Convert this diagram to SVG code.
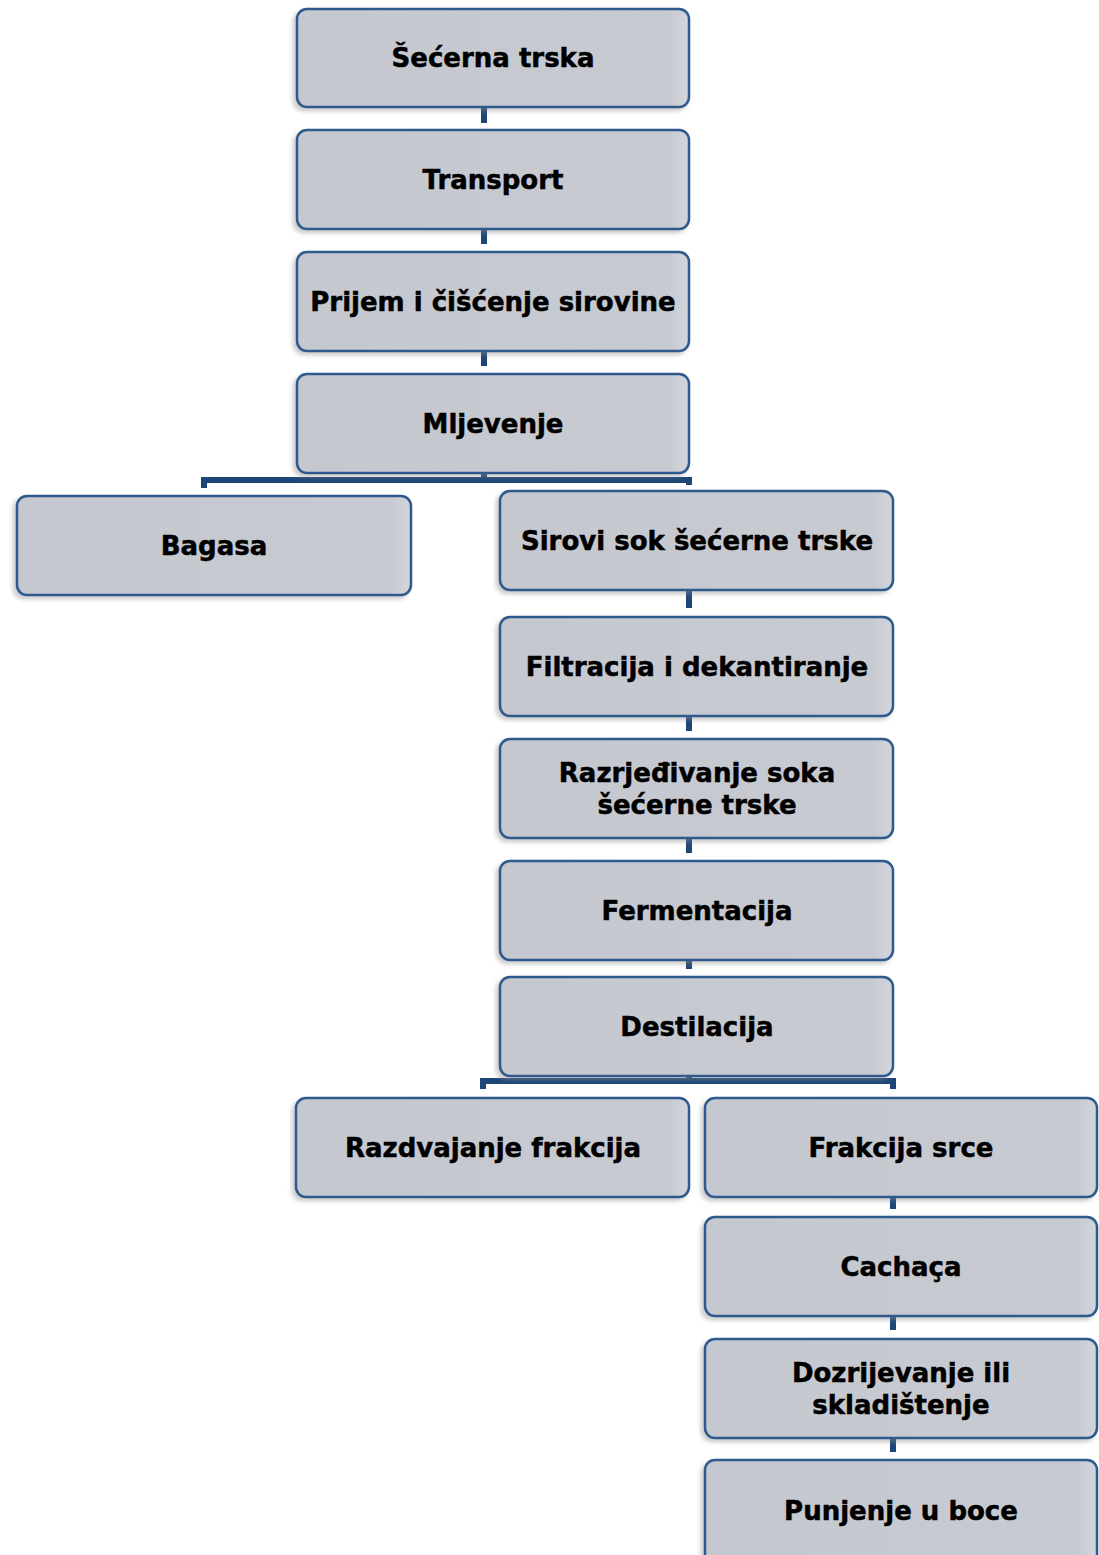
<svg xmlns="http://www.w3.org/2000/svg" width="1099" height="1555" viewBox="0 0 1099 1555">
<style>
.box{fill:url(#g);stroke:#2d5a8e;stroke-width:2.5;filter:url(#sh)}
.t{font-family:"DejaVu Sans","Liberation Sans",sans-serif;font-weight:bold;font-size:26px;fill:#000;stroke:#000;stroke-width:0.5;text-anchor:middle}
.c{stroke:#1c4677;stroke-width:6;fill:none}
</style>
<defs>
<linearGradient id="g" x1="0" y1="0" x2="1" y2="0">
<stop offset="0" stop-color="#c6c8cf"/>
<stop offset="0.95" stop-color="#c8cad1"/>
<stop offset="1" stop-color="#d3d6dd"/>
</linearGradient>
<filter id="sh" x="-5%" y="-10%" width="110%" height="125%">
<feDropShadow dx="-3" dy="3" stdDeviation="2" flood-color="#8a8a8a" flood-opacity="0.45"/>
</filter>
</defs>
<rect width="1099" height="1555" fill="#fff"/>
<g id="connectors">
<path class="c" d="M484 107V123M484 229V244M484 351V366"/>
<path class="c" d="M484 473V480M204 488V480H689V485"/>
<path class="c" d="M689 590V608M689 716V731M689 838V853M689 960V969"/>
<path class="c" d="M689 1076V1081M483 1089V1081H893V1089"/>
<path class="c" d="M893 1197V1209M893 1316V1330M893 1438V1452"/>
</g>
<g id="n1"><rect class="box" x="297" y="9" width="392" height="98" rx="10"/><text class="t" x="493" y="67">Šećerna trska</text></g>
<g id="n2"><rect class="box" x="297" y="130" width="392" height="99" rx="10"/><text class="t" x="493" y="189">Transport</text></g>
<g id="n3"><rect class="box" x="297" y="252" width="392" height="99" rx="10"/><text class="t" x="493" y="311">Prijem i čišćenje sirovine</text></g>
<g id="n4"><rect class="box" x="297" y="374" width="392" height="99" rx="10"/><text class="t" x="493" y="433">Mljevenje</text></g>
<g id="n5"><rect class="box" x="17" y="496" width="394" height="99" rx="10"/><text class="t" x="214" y="555">Bagasa</text></g>
<g id="n6"><rect class="box" x="500" y="491" width="393" height="99" rx="10"/><text class="t" x="697" y="550">Sirovi sok šećerne trske</text></g>
<g id="n7"><rect class="box" x="500" y="617" width="393" height="99" rx="10"/><text class="t" x="697" y="676">Filtracija i dekantiranje</text></g>
<g id="n8"><rect class="box" x="500" y="739" width="393" height="99" rx="10"/><text class="t" x="697" y="782">Razrjeđivanje soka</text><text class="t" x="697" y="814">šećerne trske</text></g>
<g id="n9"><rect class="box" x="500" y="861" width="393" height="99" rx="10"/><text class="t" x="697" y="920">Fermentacija</text></g>
<g id="n10"><rect class="box" x="500" y="977" width="393" height="99" rx="10"/><text class="t" x="697" y="1036">Destilacija</text></g>
<g id="n11"><rect class="box" x="296" y="1098" width="393" height="99" rx="10"/><text class="t" x="493" y="1157">Razdvajanje frakcija</text></g>
<g id="n12"><rect class="box" x="705" y="1098" width="392" height="99" rx="10"/><text class="t" x="901" y="1157">Frakcija srce</text></g>
<g id="n13"><rect class="box" x="705" y="1217" width="392" height="99" rx="10"/><text class="t" x="901" y="1276">Cachaça</text></g>
<g id="n14"><rect class="box" x="705" y="1339" width="392" height="99" rx="10"/><text class="t" x="901" y="1382">Dozrijevanje ili</text><text class="t" x="901" y="1414">skladištenje</text></g>
<g id="n15"><rect class="box" x="705" y="1460" width="392" height="110" rx="10"/><text class="t" x="901" y="1520">Punjenje u boce</text></g>
</svg>
